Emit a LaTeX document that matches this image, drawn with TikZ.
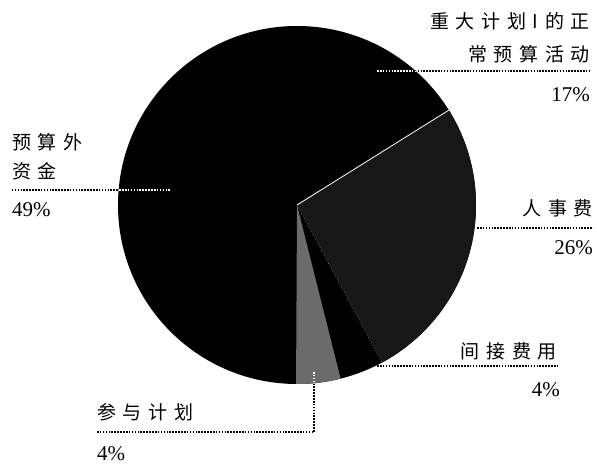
\documentclass[tikz,border=0pt]{standalone}
\usepackage{fontspec}
\newfontfamily\cjk[LetterSpace=35]{Noto Sans CJK SC}
\newfontfamily\numfont{Liberation Serif}
\tikzset{
leader/.style={line width=1.6pt, dash pattern=on 1.6pt off 1.3pt},
lbl/.style={font=\cjk\fontsize{19}{30}\selectfont, inner sep=0pt},
pct/.style={font=\numfont\fontsize{21}{24}\selectfont, inner sep=0pt}}
\begin{document}
\begin{tikzpicture}[x=1pt,y=1pt]
\useasboundingbox (0,0) rectangle (597,466);
\coordinate (c) at (297,261);
\fill[black] (c) circle[radius=179];
\foreach \a/\b/\col in {-61.6/32/black!91,-90.3/-75.9/black!58}{
\fill[\col] (c) -- +(\a:179) arc[start angle=\a, end angle=\b, radius=179] -- cycle;}
\draw[white, line width=0.8pt] (c) -- +(32:179);
\draw[black!55, line width=0.5pt, dash pattern=on 1pt off 2pt] (c) -- +(-61.6:179);
% leader lines
\foreach \n/\x/\y/\xx in {a/377/395/590,b/170/276/12,c/477/238/593,d/377/100/557}{
\coordinate (s\n) at (\x,\y);
\coordinate (e\n) at (\xx,\y);
\draw[leader] (s\n) -- (e\n);}
\coordinate (se) at (314,94);
\coordinate (ee) at (97,34);
\draw[leader] (se) |- (ee);
\begin{scope}
\clip (c) circle[radius=179];
\foreach \n in {a,b,c,d}{
\draw[leader, white] (s\n) -- (e\n);}
\draw[leader, white] (se) |- (ee);
\end{scope}
% labels
\node[lbl, anchor=base east] (ta1) at (590,437) {重大计划I的正};
\node[lbl, anchor=base east] (ta2) at (590,404) {常预算活动};
\node[pct, anchor=base east] (pa) at (590,364) {17\%};
\node[lbl, anchor=base west] (tb1) at (12,316) {预算外};
\node[lbl, anchor=base west] (tb2) at (12,287) {资金};
\node[pct, anchor=base west] (pb) at (12,249) {49\%};
\node[lbl, anchor=base east] (tc) at (593,250) {人事费};
\node[pct, anchor=base east] (pc) at (593,211) {26\%};
\node[lbl, anchor=base east] (td) at (557,107) {间接费用};
\node[pct, anchor=base east] (pd) at (560,69) {4\%};
\node[lbl, anchor=base west] (te) at (97,47) {参与计划};
\node[pct, anchor=base west] (pe) at (97,6) {4\%};
\end{tikzpicture}
\end{document}
